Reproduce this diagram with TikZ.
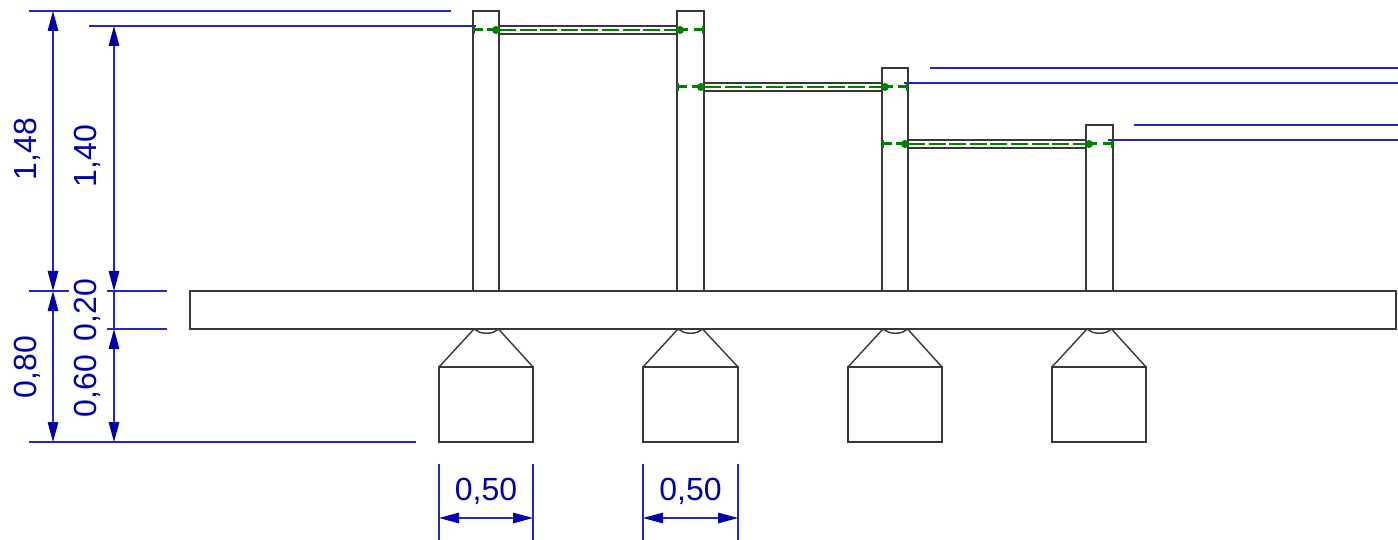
\documentclass[tikz,border=0pt]{standalone}
\usepackage{fontspec}
\setmainfont{Liberation Sans}
\usetikzlibrary{arrows.meta}
\definecolor{dimblue}{RGB}{0,0,168}
\definecolor{dimsoft}{RGB}{40,40,180}
\definecolor{frgreen}{RGB}{0,128,0}
\tikzset{
  struct/.style={draw=black!78,line width=1.4pt},
  dimline/.style={draw=dimsoft,line width=1.4pt},
  dimarrow/.style={dimline,{Triangle[length=20pt,width=10.5pt,fill=dimblue,color=dimblue]}-{Triangle[length=20pt,width=10.5pt,fill=dimblue,color=dimblue]}},
  dimlabel/.style={text=dimblue,font=\fontsize{32}{32}\selectfont,inner sep=0pt},
  gline/.style={draw=frgreen,line width=1.4pt},
  gthick/.style={draw=frgreen,line width=3pt},
  gdot/.style={fill=frgreen,draw=none}
}
\begin{document}
\begin{tikzpicture}[x=1pt,y=-1pt]
\useasboundingbox (0,0) rectangle (1398,540);
\fill[white] (0,0) rectangle (1398,540);
% beam
\draw[struct] (190,291) rectangle (1396,329);
% columns, footings and hips
\foreach \cl/\cr/\top/\fl/\fr in {473/499/11/439/533,677/704/11/643/738,882/908/68/848/942,1086/1113/125/1052/1146}{
  \draw[struct] (\cl,291) -- (\cl,\top) -- (\cr,\top) -- (\cr,291);
  \draw[struct] (\fl,367) rectangle (\fr,442);
  \draw[struct] (\fl,367) -- ({\fl+35},329) -- ({\fl+38.5},331)
     .. controls ({\fl+42},334) and ({\fl+53},334) .. ({\fl+56.5},331)
     -- ({\fl+59.5},329) -- (\fr,367);
}
% girders
\foreach \xa/\xb/\yt/\xl/\xr in {499/677/26/473/704,704/882/83/677/908,908/1086/140/882/1113}{
  \draw[struct] (\xa,\yt) rectangle (\xb,{\yt+8});
  \draw[gline,dash pattern=on 17pt off 3.6pt] (\xa,{\yt+4}) -- (\xb,{\yt+4});
  % left end
  \draw[gthick] (\xl,{\yt+4}) -- ({\xl+10},{\yt+4});
  \draw[gthick] ({\xa-12},{\yt+4}) -- ({\xa-1},{\yt+4});
  \draw[gline] ({\xl+1},{\yt}) -- ({\xl+1},{\yt+8});
  \fill[gdot] ({\xa-3},{\yt+4}) circle (4pt);
  % right end
  \draw[gthick] ({\xb+1},{\yt+4}) -- ({\xb+11},{\yt+4});
  \draw[gthick] ({\xr-10},{\yt+4}) -- (\xr,{\yt+4});
  \draw[gline] ({\xr-1},{\yt}) -- ({\xr-1},{\yt+8});
  \fill[gdot] ({\xb+3},{\yt+4}) circle (4pt);
}
% dimension anchors
\coordinate (a1) at (53,11);   \coordinate (a2) at (53,291);  \coordinate (a3) at (53,442);
\coordinate (b1) at (114,26);\coordinate (b2) at (114,291);\coordinate (b3) at (114,329);\coordinate (b4) at (114,442);
% extension lines
\foreach \xa/\xb/\yy in {29/451/11,89/476/26,29/69/291,107/167/291,107/167/329,29/416/442,930/1398/68,904/1398/83,1134/1398/125,1108/1398/140}{
  \draw[dimline] (\xa,\yy) -- (\xb,\yy);
}
% vertical dimensions
\draw[dimarrow] (a1) -- (a2);
\draw[dimarrow] (a2) -- (a3);
\draw[dimarrow] (b1) -- (b2);
\draw[dimline] (b2) -- (b3);
\draw[dimarrow] (b3) -- (b4);
% horizontal dimensions
\foreach \xl/\xr/\nm in {439/533/p,643/738/q}{
  \coordinate (\nm1) at (\xl,518);
  \coordinate (\nm2) at (\xr,518);
  \draw[dimline] (\xl,464) -- (\xl,540);
  \draw[dimline] (\xr,464) -- (\xr,540);
  \draw[dimarrow] (\nm1) -- (\nm2);
}
% labels
\node[dimlabel,rotate=90] (l148) at (27.5,149) {1,48};
\node[dimlabel,rotate=90] (l140) at (87,156) {1,40};
\node[dimlabel,rotate=90] (l080) at (27.5,367) {0,80};
\node[dimlabel,rotate=90] (l020) at (87,310) {0,20};
\node[dimlabel,rotate=90] (l060) at (87,386) {0,60};
\node[dimlabel] (l050a) at (486,491) {0,50};
\node[dimlabel] (l050b) at (690.5,491) {0,50};
\end{tikzpicture}
\end{document}
